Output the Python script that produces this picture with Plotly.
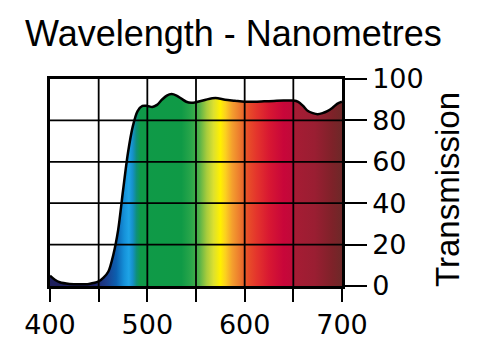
import plotly.graph_objects as go

# ---- data ----
wavelength = [400, 405, 410, 420, 430, 440, 450, 455, 460, 465, 470, 475, 480, 485,
              490, 495, 500, 505, 510, 515, 520, 525, 530, 535, 540, 545, 550, 560,
              570, 580, 590, 600, 610, 620, 630, 640, 650, 655, 660, 665, 670, 675,
              680, 685, 690, 695, 700]
transmission = [5, 3, 1.8, 1, 0.8, 1, 2.2, 4, 7, 15, 27, 46, 64, 77,
                84.5, 87, 87, 86.5, 87.5, 90, 92, 92.7, 92, 90.5, 89, 88.5, 88.8, 90,
                90.8, 90, 89.5, 89, 89, 89.2, 89.4, 89.6, 89.6, 89, 87, 84.5, 83.5, 83,
                83.5, 84.5, 86, 88, 89]

x_ticks = [400, 450, 500, 550, 600, 650, 700]
x_labels = ["400", "", "500", "", "600", "", "700"]
y_ticks = [0, 20, 40, 60, 80, 100]
y_labels = ["0", "20", "40", "60", "80", "100"]

# spectrum colour stops (wavelength, colour)
spec_nm = [400, 445, 458, 468, 476, 481, 485, 489, 493, 535, 545, 553, 561, 568, 575,
           580, 587, 595, 602, 612, 625, 640, 649, 652, 672, 690, 700]
spec_col = ["#1e1f5c", "#1f2266", "#1b3f8e", "#0c5faf", "#1590d8", "#1ea4e6", "#1690c8",
            "#0e9078", "#0f9a48", "#0f9a46", "#2aa64a", "#50b04a", "#a8cc3c", "#dce030",
            "#fff000", "#fcd21e", "#f4a02e", "#ec7a2e", "#e85228", "#e4352c", "#d81832",
            "#c8063a", "#c00a38", "#a61c34", "#9a1e32", "#7e2229", "#6e2828"]

x_min, x_max = 400, 700
colorscale = [[(n - x_min) / (x_max - x_min), c] for n, c in zip(spec_nm, spec_col)]

fig = go.Figure()
fig.add_trace(go.Scatter(
    x=wavelength, y=transmission, mode="lines",
    line=dict(color="black", width=2.5, shape="spline", smoothing=0.8),
    fill="tozeroy",
    fillgradient=dict(type="horizontal", colorscale=colorscale, start=x_min, stop=x_max),
    hoverinfo="x+y", showlegend=False,
))

# grid lines drawn above the fill
for v in x_ticks[1:-1]:
    fig.add_shape(type="line", xref="x", yref="y", x0=v, x1=v, y0=0, y1=100,
                  line=dict(color="black", width=1.8), layer="above")
for v in y_ticks[1:-1]:
    fig.add_shape(type="line", xref="x", yref="y", x0=x_min, x1=x_max, y0=v, y1=v,
                  line=dict(color="black", width=1.8), layer="above")

tick_font = dict(family="DejaVu Sans", size=27, color="black")

fig.update_xaxes(
    range=[x_min, x_max], tickvals=x_ticks, ticktext=x_labels,
    ticks="outside", ticklen=13, tickwidth=2, tickcolor="black",
    showline=True, linecolor="black", linewidth=2.5, mirror=True,
    showgrid=False, zeroline=False, tickfont=tick_font,
)
fig.update_yaxes(
    range=[0, 100], tickvals=y_ticks, ticktext=y_labels, side="right",
    ticks="outside", ticklen=22, tickwidth=1.5, tickcolor="black",
    showline=True, linecolor="black", linewidth=2.5, mirror=True,
    showgrid=False, zeroline=False, tickfont=tick_font,
)

fig.add_annotation(text="Wavelength - Nanometres", xref="paper", yref="paper",
                   x=-0.0925, y=1.22, xanchor="left", yanchor="middle", showarrow=False,
                   font=dict(family="Liberation Sans", size=36, color="black"))
fig.add_annotation(text="Transmission", xref="paper", yref="paper",
                   x=1.363, y=0.469, xanchor="center", yanchor="middle", showarrow=False,
                   textangle=-90,
                   font=dict(family="Liberation Sans", size=33, color="black"))

fig.update_layout(
    width=500, height=352,
    margin=dict(l=50, r=158, t=79, b=62),
    paper_bgcolor="white", plot_bgcolor="white",
)

fig.write_html("out.html")
